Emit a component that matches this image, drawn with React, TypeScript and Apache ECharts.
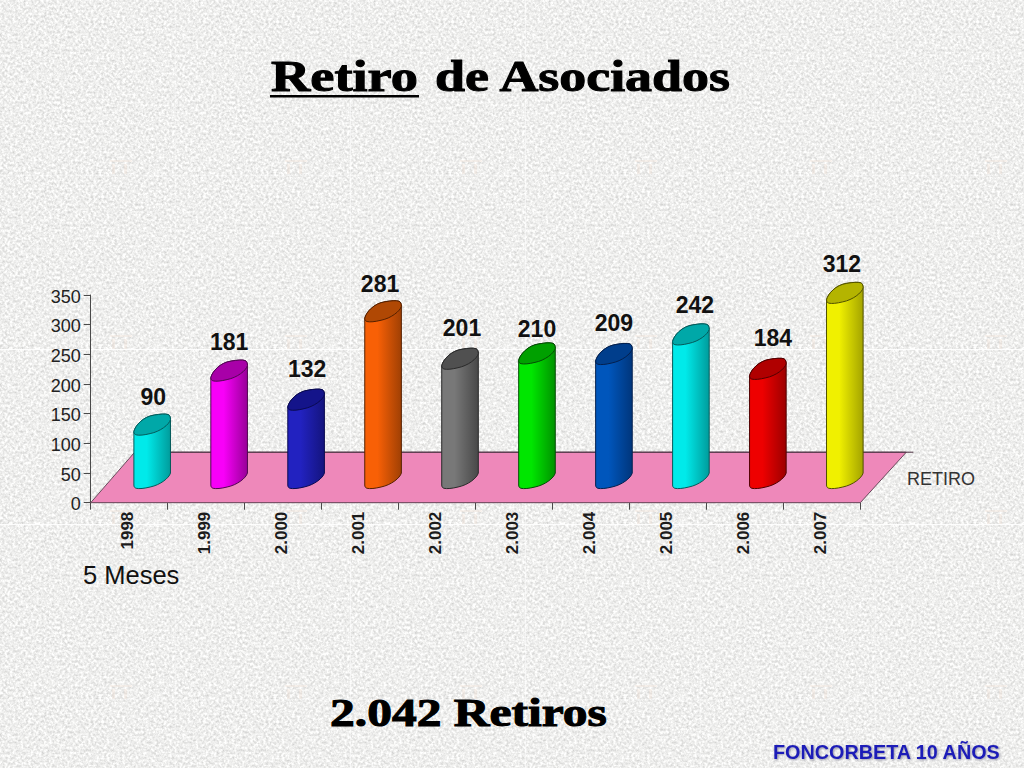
import React, { useEffect, useRef } from "react";
import * as echarts from "echarts";

const categories = ["1998", "1.999", "2.000", "2.001", "2.002", "2.003", "2.004", "2.005", "2.006", "2.007"];
const retiros = [90, 181, 132, 281, 201, 210, 209, 242, 184, 312];
const yTicks = { min: 0, max: 350, interval: 50 };
const bodyLight = ["#00eaea", "#f800f8", "#2222c0", "#f86006", "#787878", "#00e600", "#0056bc", "#00eaea", "#ee0000", "#f0f000"];
const bodyDark = ["#009c9c", "#980098", "#14147e", "#a04004", "#484848", "#009200", "#00367c", "#009c9c", "#9c0000", "#a4a400"];
const topColor = ["#00a8a8", "#a800a8", "#14148a", "#b04804", "#505050", "#00a000", "#003e8c", "#00a8a8", "#b00000", "#b4b400"];
const edgeColor = ["#045a5a", "#500850", "#0a0a50", "#552000", "#2a2a2a", "#064a06", "#04204e", "#045a5a", "#500000", "#505000"];
const labelNudgeX = [0, -1, 0, -4, 1, -1, -1, 3, 4, -4];
const labelNudgeY = [1, 0, -2, 2, -2, 5, -2, 0, -2, 0];

const SANS = '"Liberation Sans", Arial, sans-serif';
const SERIF = '"Liberation Serif", "Times New Roman", serif';

const tileSvg = `<svg xmlns="http://www.w3.org/2000/svg" width="175" height="175"><filter id="n" x="0" y="0" width="100%" height="100%" color-interpolation-filters="sRGB"><feTurbulence type="fractalNoise" baseFrequency="0.38" numOctaves="3" seed="7" stitchTiles="stitch"/><feColorMatrix type="matrix" values="0.3 0 0 0 0.785 0.3 0 0 0 0.785 0.3 0 0 0 0.78 0 0 0 0 1"/></filter><rect width="175" height="175" filter="url(#n)"/><g fill="#f3dfd2" opacity="0.3"><rect x="110" y="160" width="22" height="2"/><rect x="112" y="164" width="3" height="10"/><rect x="124" y="164" width="3" height="10"/></g></svg>`;

const seamV = [175, 350, 525, 700, 875];
const seamH = [175, 349, 524, 699];
const seams = [
  ...seamV.map((x) => `linear-gradient(rgba(255,255,255,${x === 350 || x === 525 ? 0.55 : 0.3}),rgba(255,255,255,${x === 350 || x === 525 ? 0.55 : 0.3})) ${x}px 0/1px 100% no-repeat`),
  ...seamH.map((y) => `linear-gradient(rgba(255,255,255,${y === 349 || y === 524 ? 0.9 : 0.25}),rgba(255,255,255,${y === 349 || y === 524 ? 0.9 : 0.25})) 0 ${y}px/100% 1px no-repeat`),
];
const pageBackground = [...seams, `url("data:image/svg+xml,${encodeURIComponent(tileSvg)}") 0 0/175px 175px repeat`].join(",");

const f = (n: number) => n.toFixed(2);
const HALF = 18.3;

function upperEdge(cx: number, y: number) {
  return `C${f(cx - 17)} ${f(y + 1)} ${f(cx - 9)} ${f(y - 8)} ${f(cx + 2)} ${f(y - 9.5)} ` +
    `C${f(cx + 8)} ${f(y - 10.5)} ${f(cx + 13)} ${f(y - 11)} ${f(cx + 16)} ${f(y - 10)} ` +
    `C${f(cx + 17.5)} ${f(y - 9.5)} ${f(cx + HALF)} ${f(y - 7.5)} ${f(cx + HALF)} ${f(y - 5)} `;
}
function lowerEdge(cx: number, y: number) {
  return `C${f(cx + 17)} ${f(y)} ${f(cx + 8)} ${f(y + 7)} ${f(cx - 2)} ${f(y + 9)} ` +
    `C${f(cx - 8)} ${f(y + 10.5)} ${f(cx - 13)} ${f(y + 11)} ${f(cx - 16)} ${f(y + 10.3)} ` +
    `C${f(cx - 17.5)} ${f(y + 9.8)} ${f(cx - HALF)} ${f(y + 9)} ${f(cx - HALF)} ${f(y + 7)} `;
}

function renderCylinder(_params: any, api: any) {
  const i = api.value(0);
  const v = api.value(1);
  const [bx, by] = api.coord([i, 0]);
  const [, ty] = api.coord([i, v]);
  const cx = bx + 23;
  const base = by - 24.7;
  const top = ty - 24.7;
  const body =
    `M${f(cx - HALF)} ${f(top + 7)} ` + upperEdge(cx, top) +
    `L${f(cx + HALF)} ${f(base - 5)} ` + lowerEdge(cx, base) + "Z";
  const lid = `M${f(cx - HALF)} ${f(top + 7)} ` + upperEdge(cx, top) + lowerEdge(cx, top) + "Z";
  return {
    type: "group",
    children: [
      {
        type: "path",
        shape: { pathData: body },
        style: {
          fill: new echarts.graphic.LinearGradient(0, 0, 1, 0, [
            { offset: 0, color: bodyLight[i] },
            { offset: 0.35, color: bodyLight[i] },
            { offset: 1, color: bodyDark[i] },
          ]),
          stroke: edgeColor[i],
          lineWidth: 1,
        },
      },
      {
        type: "path",
        shape: { pathData: lid },
        style: { fill: topColor[i], stroke: edgeColor[i], lineWidth: 1 },
      },
      {
        type: "text",
        x: cx + 1 + labelNudgeX[i],
        y: top - 29 + labelNudgeY[i],
        style: {
          text: String(v),
          fill: "#111",
          font: `bold 23px ${SANS}`,
          textAlign: "center",
          textVerticalAlign: "middle",
        },
      },
    ],
  };
}

function renderFloor(params: any, api: any) {
  const c = params.coordSys;
  const depthX = 44;
  const depthY = 50.5;
  const l = c.x;
  const r = c.x + c.width;
  const b = c.y + c.height;
  const t = b - depthY;
  return {
    type: "group",
    children: [
      {
        type: "polygon",
        shape: { points: [[l, b], [r, b], [r + 46, t], [l + depthX, t]] },
        style: { fill: "#ee88ba", stroke: "#6a4a5c", lineWidth: 1 },
      },
      {
        type: "line",
        shape: { x1: l + depthX, y1: t, x2: r + 53, y2: t },
        style: { stroke: "#4a2f40", lineWidth: 1 },
      },
    ],
  };
}

export default function App() {
  const ref = useRef<HTMLDivElement>(null);
  useEffect(() => {
    document.body.style.margin = "0";
    const chart = echarts.init(ref.current!, undefined, { renderer: "svg", width: 1024, height: 768 });
    const serifBold = (size: number) => `bold ${size}px ${SERIF}`;
    chart.setOption({
      animation: false,
      backgroundColor: "transparent",
      grid: { left: 90.7, top: 295, width: 769.6, height: 207.7, containLabel: false },
      xAxis: {
        type: "category",
        data: categories,
        boundaryGap: true,
        axisLine: { show: true, lineStyle: { color: "#4a4a4a", width: 1 } },
        axisTick: { show: true, length: 7, lineStyle: { color: "#4a4a4a", width: 1 } },
        axisLabel: {
          interval: 0,
          rotate: 90,
          margin: 9,
          verticalAlign: "bottom",
          lineHeight: 3,
          color: "#1c1c1c",
          fontFamily: SANS,
          fontWeight: "bold",
          fontSize: 17,
        },
      },
      yAxis: {
        type: "value",
        min: yTicks.min,
        max: yTicks.max,
        interval: yTicks.interval,
        splitLine: { show: false },
        axisLine: { show: true, lineStyle: { color: "#4a4a4a", width: 1 } },
        axisTick: { show: true, length: 7, lineStyle: { color: "#4a4a4a", width: 1 } },
        axisLabel: { margin: 10, verticalAlign: "top", lineHeight: 3, color: "#222", fontFamily: SANS, fontSize: 18 },
      },
      series: [
        { type: "custom", z: 1, silent: true, renderItem: renderFloor, data: [[0, 0]], encode: { x: 0, y: 1 } },
        {
          type: "custom",
          z: 3,
          silent: true,
          renderItem: renderCylinder,
          data: retiros.map((v, i) => [i, v]),
          encode: { x: 0, y: 1 },
        },
      ],
      graphic: {
        elements: [
          {
            type: "text", x: 271, y: 76, scaleX: 1.236,
            style: { text: "Retiro", font: serifBold(44), fill: "#000", stroke: "#000", lineWidth: 1, textVerticalAlign: "middle" },
          },
          { type: "rect", shape: { x: 270, y: 95, width: 149, height: 2.6 }, style: { fill: "#000" } },
          {
            type: "text", x: 435, y: 76, scaleX: 1.225,
            style: { text: "de Asociados", font: serifBold(44), fill: "#000", stroke: "#000", lineWidth: 1, textVerticalAlign: "middle" },
          },
          {
            type: "text", x: 330, y: 713, scaleX: 1.27,
            style: { text: "2.042 Retiros", font: serifBold(39), fill: "#000", stroke: "#000", lineWidth: 1, textVerticalAlign: "middle" },
          },
          {
            type: "text", x: 83, y: 575,
            style: { text: "5 Meses", font: `25.5px ${SANS}`, fill: "#111", textVerticalAlign: "middle" },
          },
          {
            type: "text", x: 907, y: 479,
            style: { text: "RETIRO", font: `18px ${SANS}`, fill: "#333", textVerticalAlign: "middle" },
          },
          {
            type: "text", x: 773, y: 752,
            style: {
              text: "FONCORBETA 10 AÑOS",
              font: `bold 19.8px ${SANS}`,
              fill: "#1a1ab8",
              textVerticalAlign: "middle",
              textShadowColor: "rgba(90,90,120,0.6)",
              textShadowBlur: 2,
              textShadowOffsetX: 1,
              textShadowOffsetY: 1,
            },
          },
        ],
      },
    });
    return () => chart.dispose();
  }, []);
  return (
    <div style={{ position: "absolute", left: 0, top: 0, width: 1024, height: 768, overflow: "hidden", background: pageBackground }}>
      <div ref={ref} style={{ width: 1024, height: 768 }} />
    </div>
  );
}
